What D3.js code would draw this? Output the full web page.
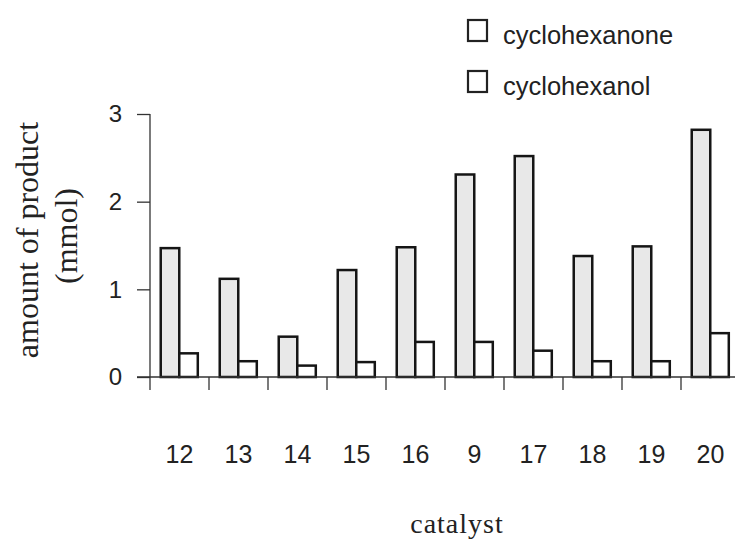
<!DOCTYPE html>
<html>
<head>
<meta charset="utf-8">
<script src="https://cdn.jsdelivr.net/npm/d3@7"></script>
<style>
  html, body { margin: 0; padding: 0; background: #fff; }
  svg { display: block; }
</style>
</head>
<body>
<svg id="chart" width="735" height="540"></svg>
<script>
// Catalysts along the x axis, in plotted order
const catalysts = ["12", "13", "14", "15", "16", "9", "17", "18", "19", "20"];
// Amount of each product (mmol) per catalyst
const cyclohexanone = [1.47, 1.12, 0.46, 1.22, 1.48, 2.31, 2.52, 1.38, 1.49, 2.82];
const cyclohexanol  = [0.27, 0.18, 0.13, 0.17, 0.40, 0.40, 0.30, 0.18, 0.18, 0.50];
const seriesNames = ["cyclohexanone", "cyclohexanol"];
const yTicks = [0, 1, 2, 3];

const svg = d3.select("#chart");
const ink = "#151515";
const fills = ["#e8e8e8", "#ffffff"];

const y = d3.scaleLinear().domain([0, 3]).range([377, 114]);
const x0 = d3.scaleBand().domain(catalysts).range([150, 740]).paddingInner(0).paddingOuter(0);
const bw = x0.bandwidth();
const x1 = d3.scaleBand().domain(seriesNames).range([bw * 0.182, bw * 0.81]).padding(0);

const rows = catalysts.map((c, i) => ({
  catalyst: c,
  values: [
    { name: seriesNames[0], value: cyclohexanone[i] },
    { name: seriesNames[1], value: cyclohexanol[i] }
  ]
}));

// Bars
const groups = svg.append("g").selectAll("g")
  .data(rows).join("g")
  .attr("transform", d => `translate(${x0(d.catalyst)},0)`);

groups.selectAll("rect")
  .data(d => d.values).join("rect")
  .attr("x", d => x1(d.name))
  .attr("y", d => y(d.value))
  .attr("width", x1.bandwidth())
  .attr("height", d => y(0) - y(d.value))
  .attr("fill", (d, i) => fills[i])
  .attr("stroke", ink)
  .attr("stroke-width", 2.5);

// Y axis
const yAxis = svg.append("g").attr("transform", "translate(150,0)")
  .call(d3.axisLeft(y).tickValues(yTicks).tickSize(13).tickPadding(15).tickFormat(d3.format("d")));
yAxis.select(".domain").attr("d", `M0,${y(3)}V${y(0) + 13}`).attr("stroke", "#333").attr("stroke-width", 1.3);
yAxis.selectAll(".tick line").attr("stroke", "#333").attr("stroke-width", 1.3);
yAxis.selectAll(".tick text")
  .attr("fill", "#222")
  .style("font-family", "'Liberation Sans', Arial, sans-serif")
  .style("font-size", "24px");

// X axis: ticks sit at band boundaries, labels centred under each band
const xAxis = svg.append("g").attr("transform", `translate(0,${y(0)})`);
xAxis.append("line")
  .attr("x1", 137).attr("x2", 740)
  .attr("stroke", "#333").attr("stroke-width", 1.3);
xAxis.selectAll("line.sep")
  .data(catalysts.slice(1)).join("line")
  .attr("class", "sep")
  .attr("x1", d => x0(d)).attr("x2", d => x0(d))
  .attr("y1", 0).attr("y2", 13)
  .attr("stroke", "#333").attr("stroke-width", 1.3);
xAxis.selectAll("text")
  .data(catalysts).join("text")
  .attr("x", d => x0(d) + bw / 2)
  .attr("y", 86)
  .attr("text-anchor", "middle")
  .attr("fill", "#222")
  .style("font-family", "'Liberation Sans', Arial, sans-serif")
  .style("font-size", "25px")
  .text(d => d);

// Axis titles
svg.append("text")
  .attr("transform", "translate(457,533)")
  .attr("text-anchor", "middle")
  .attr("fill", "#222")
  .style("font-family", "'Liberation Serif', 'Times New Roman', serif")
  .style("font-size", "28px")
  .style("letter-spacing", "1px")
  .text("catalyst");

const yTitle = svg.append("g").attr("transform", "translate(0,240) rotate(-90)")
  .attr("fill", "#222")
  .style("font-family", "'Liberation Serif', 'Times New Roman', serif")
  .style("font-size", "32px")
  .attr("text-anchor", "middle");
yTitle.append("text").attr("x", 0).attr("y", 38).text("amount of product");
yTitle.append("text").attr("x", 4).attr("y", 77).text("(mmol)");

// Legend
const legend = svg.append("g").selectAll("g")
  .data(seriesNames).join("g")
  .attr("transform", (d, i) => `translate(468,${20 + i * 51})`);
legend.append("rect")
  .attr("width", 19).attr("height", 21)
  .attr("fill", "#fff")
  .attr("stroke", "#222").attr("stroke-width", 2.2);
legend.append("text")
  .attr("x", 35).attr("y", 24)
  .attr("fill", "#222")
  .style("font-family", "'Liberation Sans', Arial, sans-serif")
  .style("font-size", "25.5px")
  .text(d => d);
</script>
</body>
</html>
